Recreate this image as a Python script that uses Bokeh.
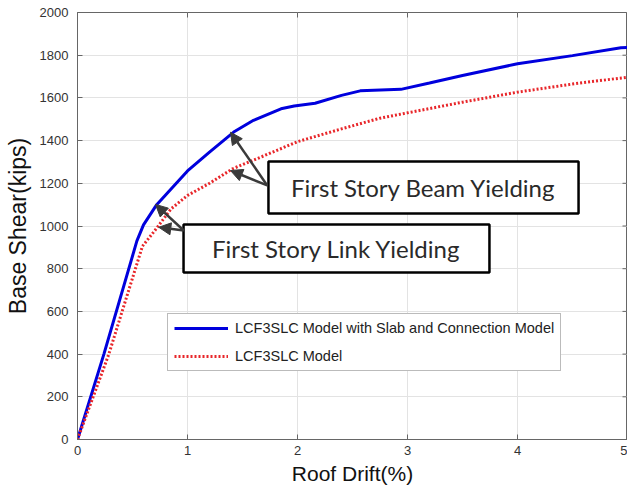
import math
from bokeh.plotting import figure
from bokeh.models import (Range1d, FixedTicker, Legend, LegendItem,
                          Arrow, NormalHead, ColumnDataSource)
from bokeh.core.properties import value
from bokeh.embed import file_html
from bokeh.resources import INLINE

# Pushover curves (roof drift %, base shear kips)
drift_slab = [0, 0.24, 0.54, 0.60, 0.72, 1.0, 1.2, 1.42, 1.6, 1.85, 1.97, 2.16, 2.4, 2.57,
              2.94, 3.2, 3.5, 4.0, 4.5, 4.94, 5.0]
shear_slab = [0, 400, 930, 1005, 1100, 1258, 1346, 1440, 1495, 1549, 1562, 1575, 1612, 1633,
              1640, 1670, 1705, 1760, 1798, 1835, 1836]
drift_base = [0, 0.285, 0.59, 0.72, 0.85, 1.0, 1.2, 1.41, 1.7, 2.0, 2.4, 2.75, 3.0, 3.5,
              4.0, 4.5, 5.0]
shear_base = [0, 400, 905, 990, 1080, 1143, 1200, 1268, 1330, 1395, 1455, 1505, 1530, 1580,
              1627, 1665, 1697]

x_ticks = [0, 1, 2, 3, 4, 5]
y_ticks = [0, 200, 400, 600, 800, 1000, 1200, 1400, 1600, 1800, 2000]

label_names = ["LCF3SLC Model with Slab and Connection Model", "LCF3SLC Model"]

# Annotation boxes: text, left, right, bottom, top (data units)
ann_text = ["First Story Beam Yielding", "First Story Link Yielding"]
ann_left = [1.736, 0.964]
ann_right = [4.555, 3.745]
ann_bottom = [1058, 782]
ann_top = [1302, 1007]
# Arrows: tail -> head (data units)
arr_x0 = [1.725, 1.725, 0.966, 0.966]
arr_y0 = [1190, 1190, 979, 979]
arr_x1 = [1.391, 1.391, 0.709, 0.739]
arr_y1 = [1439, 1260, 1101, 994]

FONT = "Liberation Sans"
X_MIN, X_MAX = x_ticks[0], x_ticks[-1]
Y_MIN, Y_MAX = y_ticks[0], y_ticks[-1]

p = figure(width=627, height=493, output_backend="svg", toolbar_location=None,
           x_range=Range1d(X_MIN, X_MAX), y_range=Range1d(Y_MIN, Y_MAX),
           min_border_left=77, min_border_right=0, min_border_top=12, min_border_bottom=54)
p.background_fill_color = "white"
p.border_fill_color = "white"
p.outline_line_color = "#666666"
p.outline_line_width = 1

for ax, ticks in ((p.xaxis[0], x_ticks), (p.yaxis[0], y_ticks)):
    ax.ticker = FixedTicker(ticks=ticks)
    ax.major_tick_in = 5
    ax.major_tick_out = 0
    ax.minor_tick_line_color = None
    ax.axis_line_color = "#666666"
    ax.major_tick_line_color = "#666666"
    ax.major_label_text_font = FONT
    ax.major_label_text_font_size = "13px"
    ax.major_label_text_color = "#333333"
    ax.axis_label_text_font = FONT
    ax.axis_label_text_font_style = "normal"
    ax.axis_label_text_color = "#111111"

p.xaxis.axis_label = "Roof Drift(%)"
p.yaxis.axis_label = "Base Shear(kips)"
p.xaxis.axis_label_text_font_size = "21px"
p.yaxis.axis_label_text_font_size = "23px"
p.xaxis.major_label_standoff = 6
p.xaxis.axis_label_standoff = 4
p.yaxis.major_label_standoff = 9
p.yaxis.axis_label_standoff = 6

p.xgrid.ticker = FixedTicker(ticks=x_ticks)
p.ygrid.ticker = FixedTicker(ticks=y_ticks)
p.grid.grid_line_color = "#e3e3e3"
p.grid.grid_line_width = 1

# mirrored inward ticks on the top and right frame edges
p.scatter(x=x_ticks, y=[Y_MAX] * len(x_ticks), marker="dash", size=10, angle=math.pi / 2,
          line_color="#666666", line_width=1)
p.scatter(x=[X_MAX] * len(y_ticks), y=y_ticks, marker="dash", size=10,
          line_color="#666666", line_width=1)

r1 = p.line(drift_slab, shear_slab, line_color="#0000dd", line_width=3)
r2 = p.line(drift_base, shear_base, line_color="#e8262a", line_width=3, line_dash="2 2")

legend = Legend(items=[LegendItem(label=label_names[0], renderers=[r1]),
                       LegendItem(label=label_names[1], renderers=[r2])],
                location=(90, 68), orientation="vertical")
legend.label_text_font = FONT
legend.label_text_font_size = "14.5px"
legend.label_text_color = "#222222"
legend.glyph_width = 54
legend.glyph_height = 14
legend.label_height = 14
legend.spacing = 12
legend.padding = 6
legend.margin = 0
legend.label_standoff = 7
legend.border_line_color = "#777777"
legend.border_line_width = 1
legend.background_fill_color = "white"
legend.background_fill_alpha = 1
p.add_layout(legend)

# annotation boxes
ann_src = ColumnDataSource(dict(left=ann_left, right=ann_right, bottom=ann_bottom, top=ann_top,
                                text=ann_text,
                                cx=[(a + b) / 2 for a, b in zip(ann_left, ann_right)],
                                cy=[(a + b) / 2 for a, b in zip(ann_bottom, ann_top)]))
p.quad(left="left", right="right", bottom="bottom", top="top", source=ann_src,
       fill_color="white", line_color="black", line_width=2.5)
p.text(x="cx", y="cy", text="text", source=ann_src, text_align="center",
       text_baseline="middle", text_font=value("Lato"), text_font_size="24px",
       text_color="#2a2a2a")

for x0, y0, x1, y1 in zip(arr_x0, arr_y0, arr_x1, arr_y1):
    p.add_layout(Arrow(end=NormalHead(size=12, fill_color="#3a3a3a", line_color="#3a3a3a"),
                       x_start=x0, y_start=y0, x_end=x1, y_end=y1,
                       line_color="#3a3a3a", line_width=2.5))

open("out.html", "w").write(file_html(p, INLINE))
